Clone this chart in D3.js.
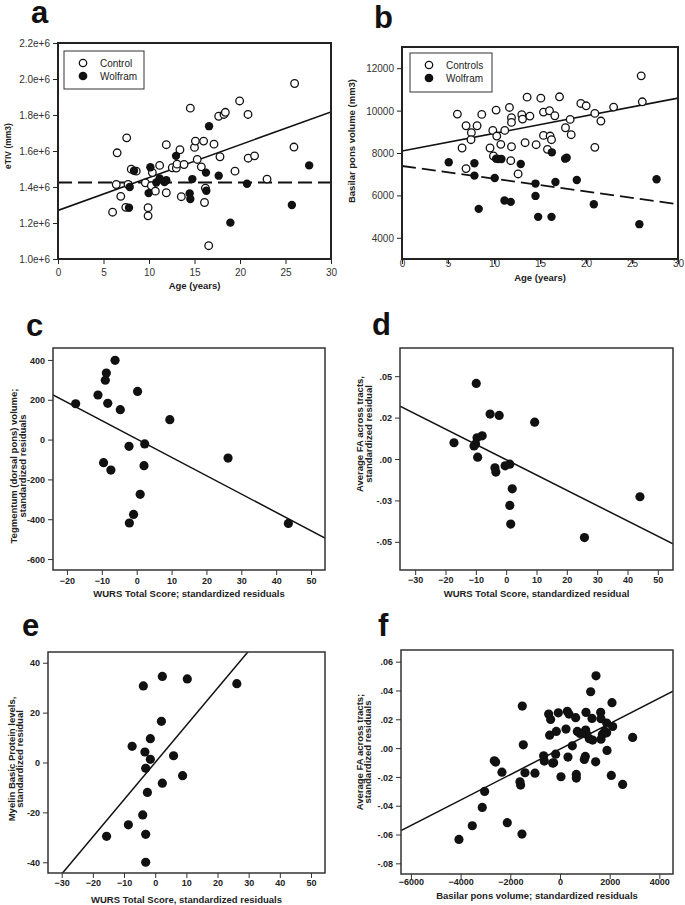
<!DOCTYPE html>
<html><head><meta charset="utf-8">
<script src="https://cdn.jsdelivr.net/npm/d3@7"></script>
<style>
body{margin:0;background:#fff;}
svg{display:block;font-family:"Liberation Sans",Arial,sans-serif;}
</style></head>
<body><svg id="chart" width="685" height="905"></svg>
<script>
// ---------- DATA ----------
// Panel a: eTIV (mm3) vs age
const aControl = [[6.0,1.26e6],[6.5,1.59e6],[6.4,1.414e6],[6.9,1.348e6],[7.55,1.673e6],[7.45,1.287e6],[7.7,1.414e6],[8.05,1.499e6],[8.6,1.488e6],[9.9,1.285e6],[9.9,1.24e6],[9.6,1.423e6],[10.26,1.407e6],[10.37,1.48e6],[10.7,1.377e6],[11.17,1.52e6],[11.9,1.635e6],[11.9,1.368e6],[12.56,1.507e6],[13.0,1.505e6],[13.08,1.527e6],[13.4,1.607e6],[13.55,1.346e6],[13.85,1.525e6],[14.54,1.838e6],[15.0,1.62e6],[15.1,1.655e6],[15.3,1.553e6],[15.75,1.512e6],[16.0,1.655e6],[16.1,1.314e6],[16.2,1.394e6],[16.56,1.074e6],[17.14,1.638e6],[17.66,1.793e6],[17.8,1.568e6],[18.24,1.803e6],[18.39,1.815e6],[19.45,1.488e6],[19.96,1.878e6],[20.88,1.803e6],[20.9,1.56e6],[21.6,1.573e6],[22.97,1.444e6],[26.0,1.975e6],[25.93,1.622e6]];
const aWolfram = [[7.88,1.40e6],[7.8,1.285e6],[8.35,1.49e6],[10.15,1.51e6],[9.96,1.366e6],[10.8,1.425e6],[11.17,1.447e6],[11.7,1.427e6],[11.9,1.438e6],[12.97,1.573e6],[14.47,1.364e6],[14.54,1.333e6],[14.76,1.444e6],[16.26,1.48e6],[16.3,1.379e6],[16.6,1.738e6],[17.66,1.463e6],[18.94,1.202e6],[20.77,1.418e6],[25.7,1.30e6],[27.6,1.52e6]];
const aControlFit = [1.27e6, 18230];   // [intercept, slope]
const aWolframFit = [1.425e6, 0];
const aXTicks = [0,5,10,15,20,25,30];
const aYTicks = [1.0e6,1.2e6,1.4e6,1.6e6,1.8e6,2.0e6,2.2e6];
const aYTickLabels = ["1.0e+6","1.2e+6","1.4e+6","1.6e+6","1.8e+6","2.0e+6","2.2e+6"];
const aLegend = ["Control","Wolfram"];

// Panel b: basilar pons volume vs age
const bControl = [[6.02,9835],[6.53,8235],[6.96,9286],[6.96,7263],[7.54,8957],[7.5,8627],[8.16,9286],[8.67,9820],[9.57,8235],[9.87,9067],[9.94,7859],[10.23,10024],[10.3,8800],[10.74,8408],[11.17,9067],[11.68,10149],[11.9,9663],[11.9,9443],[11.9,8298],[11.82,7639],[12.62,7012],[13.02,9804],[13.1,9600],[13.38,8486],[13.6,10635],[13.9,9741],[14.58,8392],[15.09,10588],[15.38,9929],[15.38,8831],[15.81,8172],[16.03,9992],[16.1,8800],[16.25,8627],[16.61,9757],[17.12,10651],[17.77,9192],[18.28,9584],[18.39,8863],[19.44,10337],[20.02,10227],[20.96,9867],[20.96,8267],[21.62,9506],[23.0,10165],[26.0,11639],[26.12,10416]];
const bWolfram = [[5.08,7561],[7.87,7514],[7.87,6933],[8.34,5365],[10.08,6824],[10.23,7733],[10.45,7718],[10.81,7718],[11.14,5757],[11.82,5694],[12.91,7482],[14.51,6557],[14.51,5976],[14.8,4988],[16.29,8031],[16.25,4988],[16.68,6635],[17.73,7733],[17.9,7780],[19.0,6729],[20.85,5584],[25.8,4643],[27.67,6761]];
const bControlFit = [8094, 83.1];
const bWolframFit = [7388, -60.1];
const bXTicks = [0,5,10,15,20,25,30];
const bYTicks = [4000,6000,8000,10000,12000];
const bYTickLabels = ["4000","6000","8000","10000","12000"];
const bLegend = ["Controls","Wolfram"];

// Panel c: tegmentum volume residuals vs WURS residuals
const cPoints = [[-17.5,180],[-11.1,224],[-9.0,298],[-8.7,334],[-6.2,398],[-8.3,182],[-4.7,150],[0.25,242],[9.5,100],[-2.2,-34],[2.3,-22],[-9.5,-116],[-7.4,-153],[2.1,-131],[1.0,-275],[-0.9,-376],[-2.1,-419],[26.2,-93],[43.5,-421]];
const cFit = [3, -9.21];
const cXTicks = [-20,-10,0,10,20,30,40,50];
const cYTicks = [-600,-400,-200,0,200,400];
const cYTickLabels = ["-600","-400","-200","0","200","400"];

// Panel d: average FA residual vs WURS residual
const dPoints = [[-9.86,0.0456],[-5.3,0.0271],[-2.3,0.0263],[9.4,0.0222],[-17.2,0.0098],[-10.6,0.0079],[-9.6,0.0128],[-7.9,0.014],[-10.1,0.009],[-9.4,0.0011],[-3.7,-0.0053],[-3.4,-0.0079],[-0.34,-0.0041],[1.2,-0.0031],[2.0,-0.018],[1.2,-0.028],[1.5,-0.0393],[25.8,-0.0474],[44.1,-0.0228]];
const dFit = [-0.0004, -0.000924];
const dXTicks = [-30,-20,-10,0,10,20,30,40,50];
const dYTicks = [-0.05,-0.025,0,0.025,0.05];
const dYTickLabels = ["-.05","-.03",".00",".02",".05"];

// Panel e: myelin basic protein residual vs WURS residual
const ePoints = [[-3.8,30.7],[2.3,34.5],[10.3,33.5],[26.2,31.6],[2.0,16.5],[-1.55,9.55],[-7.4,6.5],[-3.3,4.2],[-1.55,1.27],[5.9,2.7],[-3.05,-2.3],[8.8,-5.3],[2.3,-8.3],[-2.5,-12.0],[-4.0,-21.0],[-8.6,-25.0],[-15.6,-29.6],[-3.05,-28.8],[-3.05,-40.0]];
const eFit = [0, 1.49];
const eXTicks = [-30,-20,-10,0,10,20,30,40,50];
const eYTicks = [-40,-20,0,20,40];
const eYTickLabels = ["-40","-20","0","20","40"];

// Panel f: average FA residual vs basilar pons residual
const fPoints = [[1450,0.0502],[1235,0.0391],[-1517,0.0292],[2094,0.0315],[-456,0.0236],[-376,0.0199],[-67,0.0245],[295,0.0255],[362,0.0236],[631,0.0211],[1047,0.0248],[1638,0.0248],[1289,0.0206],[1651,0.0204],[2121,0.015],[-148,0.0116],[242,0.0132],[-416,0.009],[698,0.0116],[805,0.0102],[1034,0.0125],[1074,0.0097],[1181,0.0065],[1315,0.0056],[1651,0.0062],[1705,0.0095],[1879,0.0174],[1799,0.0116],[1879,0.0106],[2926,0.0074],[497,0.0016],[-1477,0.0023],[-2644,-0.0088],[-2591,-0.0097],[-658,-0.0053],[-631,-0.009],[-295,-0.0104],[-174,-0.0042],[-255,-0.0102],[322,-0.0062],[1020,-0.0058],[980,-0.0079],[1436,-0.0095],[1893,-0.0016],[-2336,-0.0167],[-1409,-0.0171],[-1007,-0.0174],[40,-0.0199],[658,-0.0183],[658,-0.0208],[2067,-0.019],[2523,-0.0252],[-1611,-0.0234],[-1584,-0.0257],[-3034,-0.0301],[-3128,-0.0412],[-3530,-0.0539],[-2121,-0.0518],[-1530,-0.0597],[-4067,-0.0634]];
const fFit = [-0.0007, 8.85e-6];
const fXTicks = [-6000,-4000,-2000,0,2000,4000];
const fYTicks = [-0.08,-0.06,-0.04,-0.02,0,0.02,0.04,0.06];
const fYTickLabels = ["-.08","-.06","-.04","-.02",".00",".02",".04",".06"];

// ---------- DRAWING ----------
const svg = d3.select("#chart");
let clipId = 0;

function panel(cfg){
  const g = svg.append("g");
  const x = d3.scaleLinear().domain(cfg.xDomain).range([cfg.left, cfg.right]);
  const y = d3.scaleLinear().domain(cfg.yDomain).range([cfg.bottom, cfg.top]);
  const tickFont = cfg.tickFont;

  // panel letter
  g.append("text").attr("x", cfg.letterPos[0]).attr("y", cfg.letterPos[1])
    .attr("font-size", 31).attr("font-weight", "bold").attr("fill", "#111").text(cfg.letter);

  // axes
  const xAxis = d3.axisBottom(x).tickValues(cfg.xTicks).tickSize(5).tickSizeOuter(0)
      .tickFormat(d3.format("d"));
  const gx = g.append("g").attr("transform", `translate(0,${cfg.bottom})`).call(xAxis);
  const yAxis = d3.axisLeft(y).tickValues(cfg.yTicks).tickSize(5).tickSizeOuter(0)
      .tickFormat((d,i) => cfg.yTickLabels[i]);
  const gy = g.append("g").attr("transform", `translate(${cfg.left},0)`).call(yAxis);
  [gx, gy].forEach(ax => {
    ax.select(".domain").remove();
    ax.selectAll(".tick line").attr("stroke", cfg.frameColor).attr("stroke-width", 1);
    ax.selectAll(".tick text").attr("font-family", null).attr("font-size", tickFont.size)
      .attr("font-weight", tickFont.weight).attr("fill", tickFont.color);
  });
  gx.selectAll(".tick text").attr("dy", null).attr("y", cfg.xTickLabelY - cfg.bottom);
  gy.selectAll(".tick text").attr("x", -8).attr("dy", "0.35em");

  // clip
  const id = "clip" + (clipId++);
  g.append("clipPath").attr("id", id).append("rect")
    .attr("x", cfg.left).attr("y", cfg.top)
    .attr("width", cfg.right - cfg.left).attr("height", cfg.bottom - cfg.top);
  const plot = g.append("g").attr("clip-path", `url(#${id})`);

  // fit lines
  cfg.fits.forEach(f => {
    const xs = cfg.xDomain;
    const pts = xs.map(v => [v, f.coef[0] + f.coef[1] * v]);
    plot.append("path")
      .attr("d", d3.line().x(d => x(d[0])).y(d => y(d[1]))(pts))
      .attr("fill", "none").attr("stroke", "#111").attr("stroke-width", f.width)
      .attr("stroke-dasharray", f.dash || null);
  });

  // points
  cfg.series.forEach(s => {
    g.append("g").selectAll("circle").data(s.data).join("circle")
      .attr("cx", d => x(d[0])).attr("cy", d => y(d[1])).attr("r", s.r)
      .attr("fill", s.open ? "#fff" : "#111")
      .attr("stroke", "#111").attr("stroke-width", s.open ? 1.3 : 0);
  });

  // frame
  g.append("rect").attr("x", cfg.left).attr("y", cfg.top)
    .attr("width", cfg.right - cfg.left).attr("height", cfg.bottom - cfg.top)
    .attr("fill", "none").attr("stroke", cfg.frameColor).attr("stroke-width", cfg.frameWidth);

  // legend
  if (cfg.legend) {
    const L = cfg.legend;
    g.append("rect").attr("x", L.x).attr("y", L.y).attr("width", L.w).attr("height", L.h)
      .attr("fill", "#fff").attr("stroke", "#333").attr("stroke-width", 1);
    L.labels.forEach((lab, i) => {
      const cy = L.y + 12 + i * 13;
      g.append("circle").attr("cx", L.x + 19).attr("cy", cy).attr("r", 3.7)
        .attr("fill", i === 0 ? "#fff" : "#111").attr("stroke", "#111").attr("stroke-width", 1.3);
      g.append("text").attr("x", L.x + 36).attr("y", cy + 3.6).attr("font-size", 10)
        .attr("fill", "#222").text(lab);
    });
  }

  // x label
  g.append("text").attr("x", (cfg.left + cfg.right) / 2).attr("y", cfg.xLabelY)
    .attr("text-anchor", "middle").attr("font-size", cfg.labelFont.size)
    .attr("font-weight", "bold").attr("fill", "#222").text(cfg.xLabel);
  // y label (rotated, possibly two lines)
  cfg.yLabel.forEach((line, i) => {
    g.append("text")
      .attr("transform", `translate(${cfg.yLabelX[i]},${cfg.yLabelCY}) rotate(-90)`)
      .attr("text-anchor", "middle").attr("font-size", cfg.yLabelSize)
      .attr("font-weight", "bold").attr("fill", "#222").text(line);
  });
}

const fontAB = {size: 10, weight: "normal", color: "#333"};
const fontCF = {size: 9, weight: "bold", color: "#222"};

panel({letter:"a", letterPos:[31,23], left:58, right:331, top:43, bottom:259,
  xDomain:[0,30], yDomain:[1.0e6,2.2e6], xTicks:aXTicks, yTicks:aYTicks, yTickLabels:aYTickLabels,
  tickFont:fontAB, frameColor:"#222", frameWidth:2, xTickLabelY:276,
  series:[{data:aControl, open:true, r:3.8},{data:aWolfram, open:false, r:4.2}],
  fits:[{coef:aControlFit, width:1.6},{coef:aWolframFit, width:1.8, dash:"14,6"}],
  legend:{x:64, y:51, w:80, h:38, labels:aLegend},
  xLabel:"Age (years)", xLabelY:289, labelFont:{size:9.5},
  yLabel:["eTIV (mm3)"], yLabelX:[11], yLabelCY:146, yLabelSize:8.5});

panel({letter:"b", letterPos:[374,28], left:402, right:678, top:47, bottom:259,
  xDomain:[0,30], yDomain:[3000,13000], xTicks:bXTicks, yTicks:bYTicks, yTickLabels:bYTickLabels,
  tickFont:fontAB, frameColor:"#222", frameWidth:2, xTickLabelY:267,
  series:[{data:bControl, open:true, r:3.8},{data:bWolfram, open:false, r:4.2}],
  fits:[{coef:bControlFit, width:1.6},{coef:bWolframFit, width:1.8, dash:"14,6"}],
  legend:{x:410, y:53, w:82, h:39, labels:bLegend},
  xLabel:"Age (years)", xLabelY:281, labelFont:{size:9.5},
  yLabel:["Basilar pons volume (mm3)"], yLabelX:[355], yLabelCY:141, yLabelSize:9.5});

panel({letter:"c", letterPos:[26,336], left:53, right:325, top:348, bottom:570,
  xDomain:[-24,54], yDomain:[-655,460], xTicks:cXTicks, yTicks:cYTicks, yTickLabels:cYTickLabels,
  tickFont:fontCF, frameColor:"#333", frameWidth:1.5, xTickLabelY:584,
  series:[{data:cPoints, open:false, r:4.6}],
  fits:[{coef:cFit, width:1.5}],
  xLabel:"WURS Total Score; standardized residuals", xLabelY:597, labelFont:{size:9.5},
  yLabel:["Tegmentum (dorsal pons) volume;","standardized residuals"], yLabelX:[17,26], yLabelCY:466, yLabelSize:9.5});

panel({letter:"d", letterPos:[372,335], left:400, right:673, top:348, bottom:570,
  xDomain:[-35,55], yDomain:[-0.067,0.067], xTicks:dXTicks, yTicks:dYTicks, yTickLabels:dYTickLabels,
  tickFont:fontCF, frameColor:"#333", frameWidth:1.5, xTickLabelY:583,
  series:[{data:dPoints, open:false, r:4.6}],
  fits:[{coef:dFit, width:1.5}],
  xLabel:"WURS Total Score, standardized residual", xLabelY:597, labelFont:{size:9.5},
  yLabel:["Average FA across tracts,","standardized residual"], yLabelX:[363,372], yLabelCY:434, yLabelSize:9.5});

panel({letter:"e", letterPos:[22,636], left:48, right:325, top:652, bottom:873,
  xDomain:[-34.4,54.5], yDomain:[-44.3,44.3], xTicks:eXTicks, yTicks:eYTicks, yTickLabels:eYTickLabels,
  tickFont:fontCF, frameColor:"#333", frameWidth:1.5, xTickLabelY:886,
  series:[{data:ePoints, open:false, r:4.6}],
  fits:[{coef:eFit, width:1.5}],
  xLabel:"WURS Total Score, standardized residuals", xLabelY:903, labelFont:{size:9.5},
  yLabel:["Myelin Basic Protein levels,","standardized residual"], yLabelX:[15,23], yLabelCY:759, yLabelSize:9.5});

panel({letter:"f", letterPos:[378,636], left:401, right:673, top:650, bottom:874,
  xDomain:[-6400,4550], yDomain:[-0.0874,0.0681], xTicks:fXTicks, yTicks:fYTicks, yTickLabels:fYTickLabels,
  tickFont:fontCF, frameColor:"#333", frameWidth:1.5, xTickLabelY:885,
  series:[{data:fPoints, open:false, r:4.6}],
  fits:[{coef:fFit, width:1.5}],
  xLabel:"Basilar pons volume; standardized residuals", xLabelY:899, labelFont:{size:9.5},
  yLabel:["Average FA across tracts;","standardized residuals"], yLabelX:[363,371], yLabelCY:752, yLabelSize:9.5});
</script>
</body></html>
